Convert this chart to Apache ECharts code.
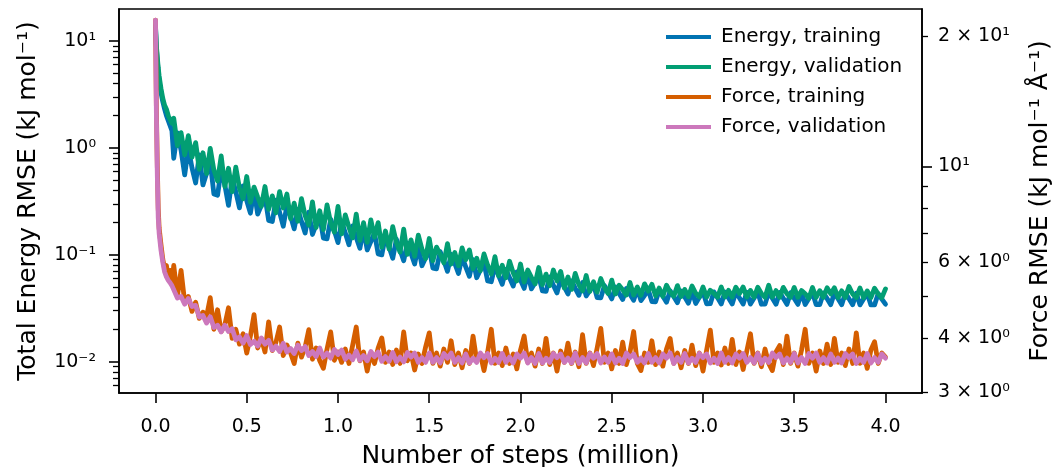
<!DOCTYPE html>
<html><head><meta charset="utf-8">
<script src="https://cdn.jsdelivr.net/npm/echarts@6/dist/echarts.min.js"></script>
<style>html,body{margin:0;padding:0;background:#fff}#c{width:1052px;height:467px}</style>
</head><body><div id="c"></div>
<script>
// x positions (million steps)
const steps = [0, 0.005, 0.01, 0.015, 0.02, 0.03, 0.04, 0.05, 0.06, 0.07, 0.08, 0.09,
0.10,0.12,0.14,0.16,0.18,0.20,0.22,0.24,0.26,0.28,
0.30,0.32,0.34,0.36,0.38,0.40,0.42,0.44,0.46,0.48,
0.50,0.52,0.54,0.56,0.58,0.60,0.62,0.64,0.66,0.68,
0.70,0.72,0.74,0.76,0.78,0.80,0.82,0.84,0.86,0.88,
0.90,0.92,0.94,0.96,0.98,1.00,1.02,1.04,1.06,1.08,
1.10,1.12,1.14,1.16,1.18,1.20,1.22,1.24,1.26,1.28,
1.30,1.32,1.34,1.36,1.38,1.40,1.42,1.44,1.46,1.48,
1.50,1.52,1.54,1.56,1.58,1.60,1.62,1.64,1.66,1.68,
1.70,1.72,1.74,1.76,1.78,1.80,1.82,1.84,1.86,1.88,
1.90,1.92,1.94,1.96,1.98,2.00,2.02,2.04,2.06,2.08,
2.10,2.12,2.14,2.16,2.18,2.20,2.22,2.24,2.26,2.28,
2.30,2.32,2.34,2.36,2.38,2.40,2.42,2.44,2.46,2.48,
2.50,2.52,2.54,2.56,2.58,2.60,2.62,2.64,2.66,2.68,
2.70,2.72,2.74,2.76,2.78,2.80,2.82,2.84,2.86,2.88,
2.90,2.92,2.94,2.96,2.98,3.00,3.02,3.04,3.06,3.08,
3.10,3.12,3.14,3.16,3.18,3.20,3.22,3.24,3.26,3.28,
3.30,3.32,3.34,3.36,3.38,3.40,3.42,3.44,3.46,3.48,
3.50,3.52,3.54,3.56,3.58,3.60,3.62,3.64,3.66,3.68,
3.70,3.72,3.74,3.76,3.78,3.80,3.82,3.84,3.86,3.88,
3.90,3.92,3.94,3.96,3.98,4.00];

// Total energy RMSE, training (kJ/mol)
const energyTrain = [13.5, 8.5, 6.5, 5.2, 4.2, 3.3, 2.7, 2.3, 2.0, 1.8, 1.75, 1.45,
0.80,1.38,0.95,0.56,1.0,0.65,0.47,0.86,0.45,0.58,
0.74,0.37,0.36,0.63,0.45,0.29,0.52,0.39,0.275,0.44,
0.32,0.245,0.40,0.24,0.29,0.35,0.21,0.205,0.325,0.25,
0.185,0.29,0.23,0.175,0.265,0.205,0.16,0.25,0.155,0.19,
0.23,0.143,0.141,0.215,0.168,0.13,0.205,0.160,0.124,0.186,
0.145,0.115,0.175,0.111,0.133,0.16,0.102,0.100,0.150,0.118,
0.093,0.140,0.111,0.088,0.129,0.103,0.082,0.122,0.079,0.094,
0.113,0.075,0.074,0.107,0.088,0.070,0.101,0.083,0.067,0.095,
0.077,0.063,0.090,0.061,0.072,0.084,0.057,0.056,0.079,0.064,
0.053,0.073,0.061,0.051,0.069,0.058,0.0485,0.067,0.048,0.055,
0.063,0.046,0.0455,0.062,0.052,0.044,0.059,0.050,0.043,0.057,
0.0485,0.0418,0.055,0.0412,0.0465,0.053,0.0398,0.0396,0.0515,0.0448,
0.0387,0.050,0.0437,0.0382,0.0485,0.0428,0.0375,0.0478,0.0373,0.0418,
0.047,0.0366,0.0364,0.0465,0.041,0.036,0.046,0.0406,0.0357,0.0458,
0.0403,0.0353,0.0455,0.0351,0.040,0.045,0.0348,0.0349,0.0450,0.0396,
0.0347,0.0449,0.0395,0.0347,0.0448,0.0395,0.0346,0.0447,0.0346,0.0394,
0.0446,0.0345,0.0346,0.0445,0.0393,0.0345,0.0444,0.0392,0.0344,0.0443,
0.0391,0.0344,0.0442,0.0343,0.0390,0.0441,0.0343,0.0342,0.0440,0.0389,
0.0342,0.0439,0.0388,0.0341,0.0438,0.0388,0.0341,0.0437,0.0340,0.0386,
0.0436,0.0340,0.0340,0.0435,0.0385,0.0345];

// Total energy RMSE, validation (kJ/mol)
const energyVal = [14.0, 9.0, 7.0, 5.6, 4.7, 3.6, 2.9, 2.5, 2.3, 2.0, 2.05, 1.7,
1.89,1.05,1.39,0.86,1.30,0.82,1.12,0.63,0.90,0.575,
0.99,0.62,0.49,0.84,0.435,0.645,0.39,0.66,0.42,0.335,
0.54,0.31,0.43,0.347,0.284,0.435,0.266,0.356,0.247,0.39,
0.274,0.37,0.218,0.304,0.206,0.335,0.232,0.19,0.313,0.18,
0.258,0.172,0.293,0.198,0.163,0.283,0.157,0.236,0.181,0.144,
0.24,0.136,0.200,0.131,0.212,0.146,0.20,0.118,0.167,0.113,
0.183,0.130,0.106,0.174,0.101,0.138,0.097,0.153,0.113,0.092,
0.142,0.088,0.118,0.101,0.084,0.127,0.082,0.105,0.079,0.116,
0.090,0.111,0.074,0.093,0.071,0.102,0.080,0.066,0.096,0.0635,
0.080,0.061,0.087,0.068,0.057,0.082,0.0555,0.072,0.0616,0.0535,
0.076,0.0525,0.066,0.0515,0.072,0.057,0.070,0.049,0.062,0.0475,
0.067,0.0525,0.046,0.064,0.0455,0.056,0.0448,0.060,0.0493,0.0435,
0.058,0.043,0.052,0.0472,0.042,0.055,0.042,0.050,0.0418,0.0535,
0.0457,0.053,0.0413,0.0488,0.041,0.052,0.0447,0.041,0.0515,0.0407,
0.0474,0.0405,0.051,0.0437,0.0404,0.050,0.0403,0.0466,0.0435,0.0402,
0.0500,0.0403,0.0465,0.0402,0.0498,0.0434,0.0500,0.0402,0.0464,0.0401,
0.0497,0.0434,0.0401,0.052,0.0402,0.0463,0.0400,0.0496,0.0433,0.0401,
0.0495,0.0400,0.0463,0.0432,0.0392,0.0494,0.0399,0.0462,0.0400,0.0492,
0.0431,0.0491,0.0399,0.0460,0.0398,0.0505,0.0430,0.0398,0.0489,0.0397,
0.0459,0.0398,0.0487,0.0429,0.0397,0.0480];

// Force RMSE, training (kJ/mol/A)
const forceTrain = [21.8, 13.5, 10.0, 8.0, 7.2, 6.6, 6.1, 5.8, 5.9, 5.5, 5.75, 5.35,
5.9,5.0,5.75,4.85,5.0,4.62,4.85,4.45,4.6,4.5,
4.97,4.2,4.66,4.15,4.3,4.71,4.0,4.2,3.88,4.1,
3.7,4.05,4.54,3.8,4.0,3.72,4.37,3.75,3.92,4.25,
3.65,3.86,3.7,3.5,3.9,3.62,3.82,4.19,3.58,3.8,
3.55,3.41,3.78,4.14,3.56,3.72,3.52,3.78,3.5,3.85,
4.25,3.55,3.72,3.36,3.7,3.5,3.8,4.01,3.52,3.72,
3.48,3.76,3.5,4.14,3.55,3.7,3.38,3.68,3.5,3.82,
4.12,3.5,3.7,3.45,3.78,3.52,3.95,3.48,3.7,3.42,
3.75,3.5,4.05,3.55,3.68,3.37,3.72,4.2,3.5,3.7,
3.46,3.8,3.5,3.68,3.4,3.76,4.05,3.52,3.7,3.45,
3.78,3.5,4.0,3.48,3.7,3.36,3.74,3.52,3.9,3.5,
3.72,3.44,4.08,3.5,3.7,3.46,3.8,4.22,3.52,3.7,
3.4,3.75,3.5,3.92,3.48,3.72,4.15,3.5,3.37,3.7,
3.52,3.95,3.48,3.72,3.45,3.78,4.0,3.5,3.7,3.42,
3.75,3.5,3.86,3.46,3.7,3.36,3.76,4.18,3.52,3.7,
3.47,3.8,3.5,3.98,3.48,3.72,3.39,3.74,4.1,3.5,
3.7,3.44,3.78,3.5,3.37,3.72,3.85,3.48,4.05,3.5,
3.7,3.45,3.76,4.2,3.5,3.7,3.36,3.74,3.5,3.88,
3.48,4.0,3.52,3.7,3.46,3.78,3.5,4.12,3.5,3.7,
3.41,3.76,3.93,3.5,3.7,3.62];

// Force RMSE, validation (kJ/mol/A)
const forceVal = [21.8, 13.0, 9.5, 7.6, 7.0, 6.4, 6.0, 5.7, 5.55, 5.45, 5.38, 5.3,
5.30,4.96,5.00,4.80,4.95,4.74,4.77,4.48,4.52,4.34,
4.49,4.24,4.29,4.14,4.29,4.15,4.21,3.97,4.03,3.90,
4.06,3.87,3.94,3.84,4.01,3.88,3.96,3.76,3.84,3.73,
3.90,3.72,3.79,3.69,3.86,3.75,3.83,3.65,3.73,3.63,
3.80,3.62,3.70,3.60,3.77,3.67,3.76,3.58,3.66,3.57,
3.74,3.56,3.65,3.55,3.73,3.63,3.72,3.54,3.63,3.54,
3.71,3.53,3.62,3.53,3.71,3.62,3.70,3.52,3.61,3.52,
3.70,3.52,3.61,3.51,3.69,3.60,3.70,3.52,3.61,3.51,
3.68,3.51,3.60,3.52,3.70,3.61,3.69,3.51,3.60,3.52,
3.69,3.52,3.62,3.51,3.68,3.60,3.70,3.51,3.61,3.50,
3.69,3.51,3.60,3.52,3.69,3.61,3.68,3.52,3.60,3.51,
3.70,3.50,3.61,3.51,3.69,3.60,3.69,3.51,3.62,3.52,
3.68,3.51,3.60,3.50,3.70,3.61,3.68,3.52,3.60,3.51,
3.69,3.52,3.61,3.51,3.68,3.60,3.70,3.50,3.61,3.52,
3.69,3.51,3.60,3.52,3.69,3.61,3.68,3.51,3.60,3.50,
3.70,3.52,3.61,3.51,3.68,3.60,3.69,3.52,3.61,3.51,
3.69,3.50,3.60,3.52,3.70,3.61,3.68,3.51,3.60,3.52,
3.69,3.51,3.61,3.50,3.69,3.60,3.70,3.52,3.61,3.51,
3.68,3.52,3.60,3.51,3.69,3.61,3.68,3.50,3.60,3.52,
3.69,3.51,3.61,3.52,3.68,3.60];

const seriesNames = ['Energy, training', 'Energy, validation', 'Force, training', 'Force, validation'];
const seriesColors = ['#0173b2', '#029e73', '#d55e00', '#cc78bc'];

const xTicks = [0, 0.5, 1, 1.5, 2, 2.5, 3, 3.5, 4];
const xTickLabels = ['0.0', '0.5', '1.0', '1.5', '2.0', '2.5', '3.0', '3.5', '4.0'];
const energyTicks = [0.01, 0.1, 1, 10];
const energyTickLabels = ['10⁻²', '10⁻¹', '10⁰', '10¹'];
const energyMinorTicks = [0.006, 0.007, 0.008, 0.009, 0.02, 0.03, 0.04, 0.05, 0.06, 0.07, 0.08, 0.09,
  0.2, 0.3, 0.4, 0.5, 0.6, 0.7, 0.8, 0.9, 2, 3, 4, 5, 6, 7, 8, 9];
const forceLabelTicks = [3, 4, 6, 10, 20];
const forceTickLabels = ['3 × 10⁰', '4 × 10⁰', '6 × 10⁰', '10¹', '2 × 10¹'];
const forceMajorTicks = [10];
const forceMinorTicks = [3, 4, 5, 6, 7, 8, 9, 20];

const FONT = 'DejaVu Sans';
function lookup(vals, labels) {
  return function (v) {
    for (let i = 0; i < vals.length; i++) {
      if (Math.abs(vals[i] - v) <= Math.abs(vals[i]) * 1e-6 + 1e-9) return labels[i];
    }
    return '';
  };
}
const axisLineStyle = { color: '#000', width: 1.6 };
const minorTickStyle = { color: '#000', width: 1.3 };

const chart = echarts.init(document.getElementById('c'), null, { renderer: 'canvas' });
const energyRange = [0.0051, 19.9];
const forceRange = [2.99, 23.15];

const option = {
  animation: false,
  backgroundColor: '#fff',
  grid: { left: 119, right: 130, top: 9, bottom: 74, show: true, borderColor: '#000', borderWidth: 1.6,
          containLabel: false, outerBoundsMode: 'none' },
  legend: {
    orient: 'vertical', left: 661, top: 22, itemWidth: 45, itemHeight: 4, itemGap: 10, icon: 'rect',
    data: seriesNames,
    textStyle: { fontFamily: FONT, fontSize: 20, color: '#000', padding: [0, 0, 0, 5] }
  },
  xAxis: [{
    type: 'value', min: -0.2, max: 4.2, position: 'bottom',
    splitLine: { show: false },
    axisLine: { show: true, onZero: false, lineStyle: axisLineStyle },
    axisTick: { show: true, customValues: xTicks, length: 10, lineStyle: axisLineStyle },
    axisLabel: { show: true, customValues: xTicks, formatter: lookup(xTicks, xTickLabels),
                 fontFamily: FONT, fontSize: 19, color: '#000', margin: 25 },
    name: 'Number of steps (million)', nameLocation: 'middle', nameGap: 51,
    nameTextStyle: { fontFamily: FONT, fontSize: 25, color: '#000' }
  }],
  yAxis: [
    { type: 'log', min: energyRange[0], max: energyRange[1], position: 'left', splitLine: { show: false },
      axisLine: { show: true, onZero: false, lineStyle: axisLineStyle },
      axisTick: { show: true, customValues: energyTicks, length: 10, lineStyle: axisLineStyle },
      axisLabel: { show: true, customValues: energyTicks, formatter: lookup(energyTicks, energyTickLabels),
                   fontFamily: FONT, fontSize: 19, color: '#000', margin: 23 },
      name: 'Total Energy RMSE (kJ mol⁻¹)', nameLocation: 'middle', nameGap: 78,
      nameTextStyle: { fontFamily: FONT, fontSize: 25, color: '#000' } },
    { type: 'log', min: energyRange[0], max: energyRange[1], position: 'left', splitLine: { show: false },
      axisLine: { show: false, onZero: false },
      axisTick: { show: true, customValues: energyMinorTicks, length: 6, lineStyle: minorTickStyle },
      axisLabel: { show: false } },
    { type: 'log', min: forceRange[0], max: forceRange[1], position: 'right', splitLine: { show: false },
      axisLine: { show: true, onZero: false, lineStyle: axisLineStyle },
      axisTick: { show: true, customValues: forceMajorTicks, length: 10, lineStyle: axisLineStyle },
      axisLabel: { show: true, customValues: forceLabelTicks, formatter: lookup(forceLabelTicks, forceTickLabels),
                   fontFamily: FONT, fontSize: 19, color: '#000', margin: 16 },
      name: 'Force RMSE (kJ mol⁻¹ Å⁻¹)', nameLocation: 'middle', nameGap: 106,
      nameTextStyle: { fontFamily: FONT, fontSize: 25, color: '#000' } },
    { type: 'log', min: forceRange[0], max: forceRange[1], position: 'right', splitLine: { show: false },
      axisLine: { show: false, onZero: false },
      axisTick: { show: true, customValues: forceMinorTicks, length: 6, lineStyle: minorTickStyle },
      axisLabel: { show: false } }
  ],
  series: [
    [energyTrain, 0], [energyVal, 0], [forceTrain, 2], [forceVal, 2]
  ].map(function (pair, k) {
    const vals = pair[0];
    return {
      name: seriesNames[k], type: 'line', yAxisIndex: pair[1], xAxisIndex: 0,
      data: steps.map(function (s, i) { return [s, vals[i]]; }),
      showSymbol: false, symbol: 'none', clip: true, silent: true,
      emphasis: { disabled: true },
      itemStyle: { color: seriesColors[k] },
      lineStyle: { color: seriesColors[k], width: 4.8, join: 'round', cap: 'round' }
    };
  })
};
chart.setOption(option);
</script>
</body></html>
